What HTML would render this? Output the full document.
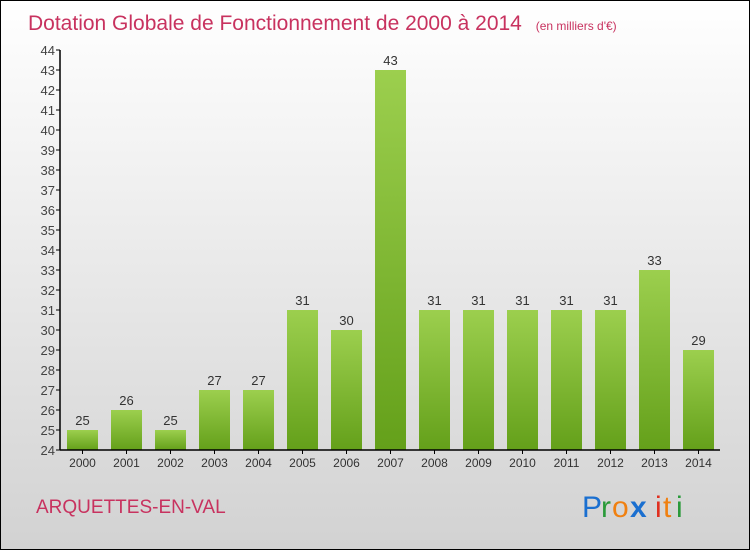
<!DOCTYPE html>
<html><head><meta charset="utf-8"><style>
body{margin:0}
svg{display:block;font-family:"Liberation Sans",sans-serif}
</style></head><body>
<svg width="750" height="550" viewBox="0 0 750 550">
<defs>
<linearGradient id="bg" x1="0" y1="0" x2="0" y2="1"><stop offset="0" stop-color="#ffffff"/><stop offset="1" stop-color="#d2d2d2"/></linearGradient>
<linearGradient id="bar" x1="0" y1="0" x2="0" y2="1"><stop offset="0" stop-color="#9ccf4e"/><stop offset="1" stop-color="#64a01a"/></linearGradient>
</defs>
<rect x="0.5" y="0.5" width="749" height="549" fill="url(#bg)" stroke="#000"/>
<text x="28" y="30" font-size="21" fill="#c8325f">Dotation Globale de Fonctionnement de 2000 à 2014 <tspan font-size="12" dx="8">(en milliers d'€)</tspan></text>
<g id="plot"></g>
<text x="36" y="513" font-size="19" fill="#c8325f">ARQUETTES-EN-VAL</text>
<g font-size="30">
<text x="582" y="517" fill="#1a6fd0">P</text><text x="601" y="517" fill="#2a9a3a">r</text><text x="612" y="517" fill="#f08010">o</text><text x="630" y="517" fill="#1a6fd0" font-weight="bold">x</text><text x="655" y="517" fill="#e03020">i</text><text x="663" y="517" fill="#f08010">t</text><text x="676" y="517" fill="#2a9a3a">i</text>
</g>
</svg>
<script>
const years=["2000","2001","2002","2003","2004","2005","2006","2007","2008","2009","2010","2011","2012","2013","2014"];
const values=[25,26,25,27,27,31,30,43,31,31,31,31,31,33,29];
const yTicks=[24,25,26,27,28,29,30,31,32,33,34,35,36,37,38,39,40,41,42,43,44];
const NS="http://www.w3.org/2000/svg";
const g=document.getElementById('plot');
const y=v=>450-(v-24)*20;
const xc=i=>82.5+i*44;
function mk(t,a,txt){const e=document.createElementNS(NS,t);for(const k in a)e.setAttribute(k,a[k]);if(txt!==undefined)e.textContent=txt;g.appendChild(e);return e;}
values.forEach((v,i)=>{
 const r=mk('rect',{x:xc(i)-15.5,y:y(v),width:31,height:450-y(v),fill:'url(#bar)'});
 
 
 const l=mk('text',{x:xc(i),y:y(v)-5,'text-anchor':'middle','font-size':13,fill:'#333'},String(v));
 
 
 const xl=mk('text',{x:xc(i),y:467,'text-anchor':'middle','font-size':12,fill:'#333'},years[i]);
 
 
 const tk=mk('line',{x1:xc(i),x2:xc(i),y1:450,y2:454,stroke:'#000'});
 
 
});
yTicks.forEach(t=>{
 const l=mk('line',{x1:56,x2:60,y1:y(t),y2:y(t),stroke:'#000'});
 
 
 const tx=mk('text',{x:55,y:y(t)+5,'text-anchor':'end','font-size':13,fill:'#444'},String(t));
 
 
});
const ya=mk('line',{x1:60,x2:60,y1:50,y2:450,stroke:'#000','stroke-width':1.5});


const xa=mk('line',{x1:60,x2:720,y1:450,y2:450,stroke:'#000','stroke-width':1.5});


</script>
</body></html>
